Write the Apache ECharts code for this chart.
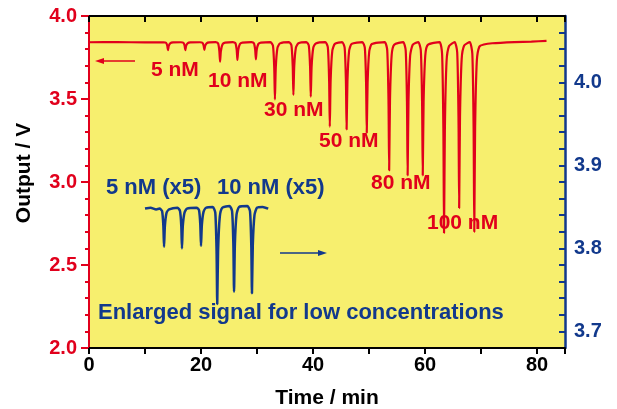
<!DOCTYPE html>
<html>
<head>
<meta charset="utf-8">
<script src="https://cdn.jsdelivr.net/npm/echarts@6/dist/echarts.min.js"></script>
<style>
  html, body { margin: 0; padding: 0; background: #ffffff; }
  #chart { width: 617px; height: 409px; }
</style>
</head>
<body>
<div id="chart"></div>
<script>
// output trace (left axis, V) vs time (min)
const redTrace = [
  [0, 3.842], [5, 3.843], [10, 3.841], [13.3, 3.842],
  [13.75, 3.839], [13.98, 3.821], [14.1, 3.795], [14.25, 3.821], [14.55, 3.837], [15.0, 3.841],
  [16.4, 3.842], [16.85, 3.839], [17.08, 3.821], [17.2, 3.795], [17.35, 3.821], [17.65, 3.837], [18.1, 3.841],
  [19.8, 3.842], [20.25, 3.839], [20.48, 3.821], [20.6, 3.796], [20.75, 3.821], [21.05, 3.837], [21.5, 3.841],
  [22.6, 3.843], [23.05, 3.835], [23.28, 3.789], [23.4, 3.725], [23.55, 3.789], [23.85, 3.830], [24.3, 3.840],
  [25.7, 3.843], [26.15, 3.836], [26.38, 3.794], [26.5, 3.735], [26.65, 3.794], [26.95, 3.831], [27.4, 3.840],
  [29.0, 3.843], [29.45, 3.836], [29.68, 3.796], [29.8, 3.739], [29.95, 3.796], [30.25, 3.832], [30.7, 3.840],
  [32.4, 3.843], [32.85, 3.821], [33.08, 3.687], [33.2, 3.498], [33.35, 3.687], [33.65, 3.808], [34.1, 3.835],
  [35.7, 3.843], [36.15, 3.823], [36.38, 3.699], [36.5, 3.524], [36.65, 3.699], [36.95, 3.810], [37.4, 3.836],
  [38.8, 3.843], [39.25, 3.822], [39.48, 3.694], [39.6, 3.514], [39.75, 3.694], [40.05, 3.809], [40.5, 3.835],
  [42.2, 3.843], [42.65, 3.811], [42.88, 3.613], [43.0, 3.333], [43.15, 3.613], [43.45, 3.791], [43.9, 3.832],
  [45.2, 3.843], [45.65, 3.810], [45.88, 3.606], [46.0, 3.317], [46.15, 3.606], [46.45, 3.790], [46.9, 3.832],
  [48.8, 3.843], [49.25, 3.809], [49.48, 3.597], [49.6, 3.297], [49.75, 3.597], [50.05, 3.788], [50.5, 3.831],
  [52.8, 3.843], [53.25, 3.796], [53.48, 3.495], [53.6, 3.070], [53.75, 3.495], [54.05, 3.765], [54.5, 3.827],
  [56.1, 3.843], [56.55, 3.794], [56.78, 3.481], [56.9, 3.040], [57.05, 3.481], [57.35, 3.762], [57.8, 3.826],
  [58.8, 3.843], [59.25, 3.794], [59.48, 3.481], [59.6, 3.040], [59.75, 3.481], [60.05, 3.762], [60.5, 3.826],
  [62.6, 3.843], [63.05, 3.773], [63.28, 3.325], [63.4, 2.693], [63.55, 3.325], [63.85, 3.727], [64.3, 3.819],
  [65.3, 3.843], [65.75, 3.782], [65.98, 3.392], [66.1, 2.843], [66.25, 3.392], [66.55, 3.742], [67.0, 3.822],
  [68.0, 3.843], [68.45, 3.773], [68.68, 3.328], [68.8, 2.700], [68.95, 3.328], [69.25, 3.728], [69.7, 3.815],
  [70.5, 3.828], [72, 3.836], [76, 3.843], [79, 3.846], [81.7, 3.850]
];

// enlarged low-concentration signal (right axis)
const blueTrace = [
  [10, 3.848], [11, 3.849], [12, 3.847],
  [12.6, 3.848], [13.05, 3.845], [13.28, 3.827], [13.4, 3.802], [13.55, 3.827], [13.85, 3.843], [14.3, 3.847],
  [15.8, 3.849], [16.25, 3.845], [16.48, 3.827], [16.6, 3.800], [16.75, 3.827], [17.05, 3.843], [17.5, 3.848],
  [19.2, 3.849], [19.65, 3.846], [19.88, 3.828], [20.0, 3.803], [20.15, 3.828], [20.45, 3.844], [20.9, 3.849],
  [22.1, 3.850], [22.55, 3.843], [22.78, 3.797], [22.9, 3.733], [23.05, 3.797], [23.35, 3.838], [23.8, 3.849],
  [25.1, 3.851], [25.55, 3.845], [25.78, 3.805], [25.9, 3.748], [26.05, 3.805], [26.35, 3.841], [26.8, 3.850],
  [28.3, 3.851], [28.75, 3.845], [28.98, 3.804], [29.1, 3.746], [29.25, 3.804], [29.55, 3.840], [30.0, 3.849],
  [31, 3.850], [32, 3.848]
];

const redLabels = ["5 nM", "10 nM", "30 nM", "50 nM", "80 nM", "100 nM"];
const blueLabels = ["5 nM (x5)", "10 nM (x5)"];
const noteText = "Enlarged signal for low concentrations";

const RED = "#e1001c";
const BLUE = "#12398c";
const YELLOW = "#f7ef6e";
const FONT = "'Liberation Sans', Arial, sans-serif";

const chart = echarts.init(document.getElementById("chart"), null, { renderer: "canvas" });

function isMultiple(v, step) {
  const q = v / step;
  return Math.abs(q - Math.round(q)) < 1e-6;
}

const labelPos = [[151, 71], [208, 82], [264, 111], [319, 142], [371, 184], [427, 224]];

function arrow(x1, x2, y, color) {
  const dir = x2 > x1 ? 1 : -1;
  return [
    { type: "line", z: 100, shape: { x1: x1, y1: y, x2: x2 - dir * 6, y2: y }, style: { stroke: color, lineWidth: 1.5 } },
    { type: "polygon", z: 100, shape: { points: [[x2, y], [x2 - dir * 9, y - 3], [x2 - dir * 9, y + 3]] }, style: { fill: color } }
  ];
}

const graphics = []
  .concat(redLabels.map((txt, i) => ({
    type: "text", z: 100, left: labelPos[i][0], top: labelPos[i][1] - 11,
    style: { text: txt, fill: RED, font: "bold 21px " + FONT }
  })))
  .concat([
    { type: "text", z: 100, left: 106, top: 177, style: { text: blueLabels[0], fill: BLUE, font: "bold 22px " + FONT } },
    { type: "text", z: 100, left: 217, top: 177, style: { text: blueLabels[1], fill: BLUE, font: "bold 22px " + FONT } },
    { type: "text", z: 100, left: 98, top: 302, style: { text: noteText, fill: BLUE, font: "bold 22px " + FONT } }
  ])
  .concat(arrow(135, 95, 61, RED))
  .concat(arrow(280, 327, 253, BLUE));

const option = {
  backgroundColor: "#ffffff",
  animation: false,
  textStyle: { fontFamily: FONT },
  grid: {
    left: 89, right: 52, top: 16, bottom: 61,
    containLabel: false, outerBoundsMode: "none",
    show: true, backgroundColor: YELLOW, borderWidth: 0
  },
  xAxis: [
    {
      type: "value", min: 0, max: 85, interval: 10,
      name: "Time / min", nameLocation: "middle", nameGap: 40,
      nameTextStyle: { color: "#000", fontWeight: "bold", fontSize: 21, fontFamily: FONT },
      axisLine: { onZero: false, lineStyle: { color: "#000", width: 2 } },
      axisTick: { inside: false, length: 6, lineStyle: { color: "#000", width: 2 } },
      axisLabel: {
        color: "#000", fontWeight: "bold", fontSize: 20, fontFamily: FONT, margin: 7,
        formatter: (v) => (isMultiple(v, 20) ? String(v) : "")
      },
      splitLine: { show: false }
    },
    {
      type: "value", position: "top", min: 0, max: 85, interval: 10,
      axisLine: { onZero: false, lineStyle: { color: "#000", width: 2 } },
      axisTick: { inside: true, length: 6, lineStyle: { color: "#000", width: 2 } },
      axisLabel: { show: false },
      splitLine: { show: false }
    }
  ],
  yAxis: [
    {
      type: "value", min: 2, max: 4, interval: 0.5,
      name: "Output / V", nameLocation: "middle", nameGap: 54,
      nameTextStyle: { color: "#000", fontWeight: "bold", fontSize: 21, fontFamily: FONT, padding: [0, 0, 0, 18] },
      axisLine: { onZero: false, lineStyle: { color: RED, width: 2 } },
      axisTick: { inside: false, length: 8, lineStyle: { color: RED, width: 2 } },
      minorTick: { show: true, splitNumber: 5, length: 4, lineStyle: { color: RED, width: 2 } },
      axisLabel: {
        color: RED, fontWeight: "bold", fontSize: 20, fontFamily: FONT, margin: 12,
        formatter: (v) => v.toFixed(1)
      },
      splitLine: { show: false }
    },
    {
      type: "value", position: "right", min: 3.68, max: 4.08, interval: 0.02,
      axisLine: { onZero: false, lineStyle: { color: BLUE, width: 2.5 } },
      axisTick: { inside: true, length: 6, lineStyle: { color: BLUE, width: 2 } },
      axisLabel: {
        color: BLUE, fontWeight: "bold", fontSize: 20, fontFamily: FONT, margin: 9,
        showMaxLabel: false, showMinLabel: false,
        formatter: (v) => (isMultiple(v, 0.1) && v < 4.05 ? v.toFixed(1) : "")
      },
      splitLine: { show: false }
    }
  ],
  series: [
    {
      name: "Output", type: "line", xAxisIndex: 0, yAxisIndex: 0,
      data: redTrace, symbol: "none", smooth: 0.2,
      lineStyle: { color: RED, width: 2.2 }, z: 3
    },
    {
      name: "Enlarged", type: "line", xAxisIndex: 0, yAxisIndex: 1,
      data: blueTrace, symbol: "none", smooth: 0.2,
      lineStyle: { color: BLUE, width: 2.5 }, z: 4
    }
  ],
  graphic: graphics
};

chart.setOption(option);
</script>
</body>
</html>
